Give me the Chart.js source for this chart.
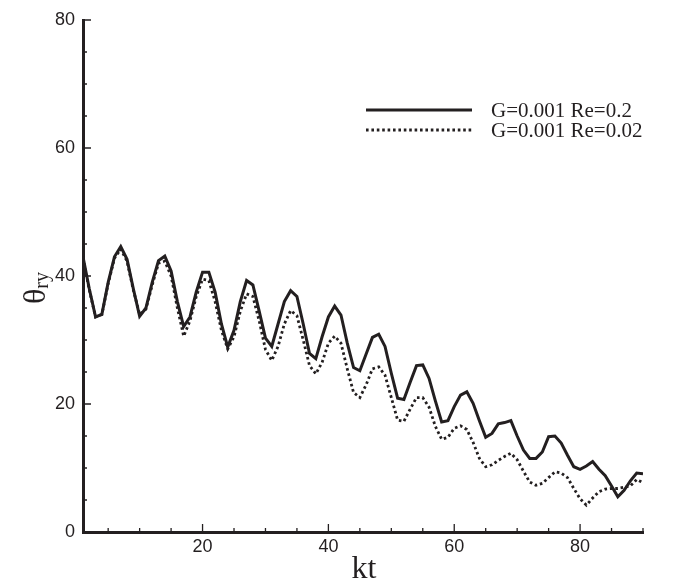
<!DOCTYPE html>
<html>
<head>
<meta charset="utf-8">
<script src="https://cdn.jsdelivr.net/npm/chart.js@4/dist/chart.umd.min.js"></script>
<style>
  html, body { margin: 0; padding: 0; background: #fff; }
  #wrap { width: 690px; height: 582px; position: relative; }
</style>
</head>
<body>
<div id="wrap"><canvas id="line-chart"></canvas></div>
<script>
// kt values (x) and the two theta_ry series
var kt = [1,2,3,4,5,6,7,8,9,10,11,12,13,14,15,16,17,18,19,20,
  21,22,23,24,25,26,27,28,29,30,31,32,33,34,35,36,37,38,39,40,
  41,42,43,44,45,46,47,48,49,50,51,52,53,54,55,56,57,58,59,60,
  61,62,63,64,65,66,67,68,69,70,71,72,73,74,75,76,77,78,79,80,
  81,82,83,84,85,86,87,88,89,90];

var re02 = [43,38,33.6,34,39,43,44.6,42.6,38,33.7,
  35,39,42.4,43.1,40.8,36,32.1,33.6,37.5,40.6,
  40.6,37.5,32.5,28.9,31.5,36,39.3,38.6,34.5,30.3,
  29,32.5,36,37.7,36.8,32.5,27.9,27.1,30.5,33.6,
  35.3,33.9,29.5,25.7,25.2,27.8,30.4,30.9,29,24.8,
  20.9,20.7,23.4,26,26.1,24,20.5,17.2,17.4,19.6,
  21.4,21.9,20.1,17.4,14.8,15.4,16.9,17.1,17.4,15,
  12.8,11.5,11.5,12.5,14.9,15,13.9,12,10.2,9.8,
  10.3,11,9.8,8.8,7.2,5.5,6.5,8,9.2,9.1];

var re002 = [42.8,37.8,33.6,34,38.8,42.8,44.2,42.3,37.8,34,
  34.8,38.6,42,42.3,40,35,30.6,33,36.8,39.5,
  39.3,36,31.5,28.6,30.5,34.5,37.2,36.8,33,28.5,
  26.8,29,32.5,34.6,33.8,30,26,24.7,26.5,29.5,
  30.6,29.5,25.5,21.8,21,23,25.5,25.8,24.5,21,
  17.5,17.3,19.2,21,21,19.5,16.5,14.5,14.8,16.2,
  16.6,16,14,11.5,10.2,10.5,11.2,11.8,12.3,11.3,
  9.5,7.8,7.3,7.6,8.5,9.4,9.2,8.5,6.8,5.2,
  4.2,5.3,6.3,6.7,6.8,6.8,7,7.2,8.2,7.7];

var xTicks = [20, 40, 60, 80];
var yTicks = [0, 20, 40, 60, 80];
var labels = ['G=0.001 Re=0.2', 'G=0.001 Re=0.02'];

var ink = '#231f20';
var serif = '"Liberation Serif", "Times New Roman", serif';
var sans = '"Liberation Sans", Arial, sans-serif';

function toPoints(xs, ys) {
  return xs.map(function(x, i) { return { x: x, y: ys[i] }; });
}

// inward ticks, legend and axis titles
var decor = {
  id: 'decor',
  afterDatasetsDraw: function(chart) {
    var ctx = chart.ctx;
    var xs = chart.scales.x, ys = chart.scales.y;
    var area = chart.chartArea;
    ctx.save();
    ctx.strokeStyle = ink;
    ctx.lineWidth = 1.3;
    ctx.beginPath();
    for (var v = 0; v <= 80; v += 5) {
      var py = ys.getPixelForValue(v);
      var len = (v % 20 === 0) ? 8 : 4;
      ctx.moveTo(area.left, py);
      ctx.lineTo(area.left + len, py);
    }
    for (var u = 5; u <= 90; u += 5) {
      var px = xs.getPixelForValue(u);
      var l2 = (u % 20 === 0) ? 8 : 4;
      ctx.moveTo(px, area.bottom);
      ctx.lineTo(px, area.bottom - l2);
    }
    ctx.stroke();

    // legend
    var rows = [110, 130];
    chart.data.datasets.forEach(function(ds, i) {
      ctx.beginPath();
      ctx.lineWidth = ds.borderWidth;
      ctx.setLineDash(ds.borderDash || []);
      ctx.moveTo(366, rows[i]);
      ctx.lineTo(472, rows[i]);
      ctx.stroke();
      ctx.setLineDash([]);
      ctx.fillStyle = ink;
      ctx.font = '21px ' + serif;
      ctx.textBaseline = 'middle';
      ctx.textAlign = 'left';
      ctx.fillText(ds.label, 491, rows[i] + 1);
    });

    // x title
    ctx.font = '32px ' + serif;
    ctx.textAlign = 'center';
    ctx.textBaseline = 'alphabetic';
    ctx.fillText('kt', 364, 578);

    // y title theta_ry, rotated
    ctx.translate(45, 304);
    ctx.rotate(-Math.PI / 2);
    ctx.textAlign = 'left';
    ctx.font = '32px ' + serif;
    ctx.fillText('\u03b8', 0, 0);
    var w = ctx.measureText('\u03b8').width;
    ctx.font = '20px ' + serif;
    ctx.fillText('ry', w, 3);
    ctx.restore();
  }
};

new Chart(document.getElementById('line-chart'), {
  type: 'line',
  data: {
    datasets: [{
      label: labels[0],
      data: toPoints(kt, re02),
      borderColor: ink,
      borderWidth: 3,
      pointRadius: 0,
      fill: false,
      tension: 0
    }, {
      label: labels[1],
      data: toPoints(kt, re002),
      borderColor: ink,
      borderWidth: 2.8,
      borderDash: [2.6, 2.8],
      pointRadius: 0,
      fill: false,
      tension: 0
    }]
  },
  plugins: [decor],
  options: {
    responsive: true,
    maintainAspectRatio: false,
    animation: false,
    layout: { padding: { top: 20, right: 47, left: 0, bottom: 0 } },
    plugins: { legend: { display: false }, tooltip: { enabled: false } },
    scales: {
      x: {
        type: 'linear',
        min: 1,
        max: 90,
        afterBuildTicks: function(s) { s.ticks = xTicks.map(function(v) { return { value: v }; }); },
        afterFit: function(s) { s.height = 50; },
        grid: { display: false, drawTicks: false },
        border: { display: true, width: 3, color: ink },
        ticks: { color: ink, font: { family: sans, size: 18 }, padding: 4, maxRotation: 0 }
      },
      y: {
        type: 'linear',
        min: 0,
        max: 80,
        afterBuildTicks: function(s) { s.ticks = yTicks.map(function(v) { return { value: v }; }); },
        afterFit: function(s) { s.width = 83; },
        grid: { display: false, drawTicks: false },
        border: { display: true, width: 3, color: ink },
        ticks: { color: ink, font: { family: sans, size: 18 }, padding: 8 }
      }
    }
  }
});
</script>
</body>
</html>
